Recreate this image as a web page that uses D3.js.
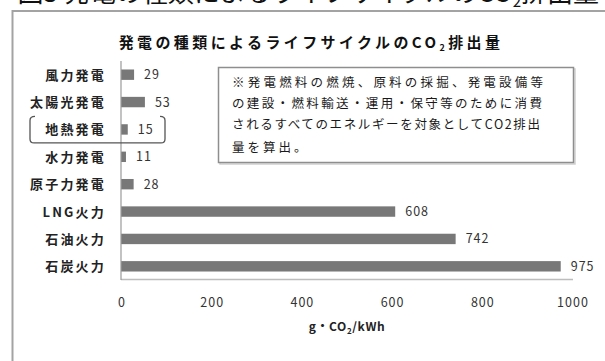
<!DOCTYPE html>
<html lang="ja">
<head>
<meta charset="utf-8">
<script src="https://cdn.jsdelivr.net/npm/d3@7/dist/d3.min.js"></script>
<style>
  html, body { margin: 0; padding: 0; background: #fff; }
  svg { display: block; }
  text { font-family: "Noto Sans CJK JP", "Noto Sans", sans-serif; }
</style>
</head>
<body>
<script>
// Life-cycle CO2 emissions by generation type (g-CO2/kWh)
const categories = ["風力発電", "太陽光発電", "地熱発電", "水力発電", "原子力発電", "LNG火力", "石油火力", "石炭火力"];
const values = [29, 53, 15, 11, 28, 608, 742, 975];
const tickValues = [0, 200, 400, 600, 800, 1000];
const tickLabels = ["0", "200", "400", "600", "800", "1000"];
const noteLines = [
  "※発電燃料の燃焼、原料の採掘、発電設備等",
  "の建設・燃料輸送・運用・保守等のために消費",
  "されるすべてのエネルギーを対象としてCO2排出",
  "量を算出。"
];
const highlighted = "地熱発電";

const W = 605, H = 361;
const svg = d3.select("body").append("svg").attr("width", W).attr("height", H);

// Figure caption above the chart frame (runs off the top of the page)
const cap = svg.append("text")
  .attr("x", 599).attr("y", 1.5)
  .attr("text-anchor", "end")
  .attr("font-size", 26).attr("fill", "#111");
cap.append("tspan").text("図3 発電の種類によるライフサイクルのCO");
cap.append("tspan").attr("font-size", 15).attr("dy", 5).text("2");
cap.append("tspan").attr("dy", -5).text("排出量");

// Chart frame
svg.append("rect")
  .attr("x", 12.5).attr("y", 11).attr("width", W + 20).attr("height", H + 20)
  .attr("fill", "#fff").attr("stroke", "#a3a3a3").attr("stroke-width", 2);

// Chart title
const title = svg.append("text")
  .attr("x", 311).attr("y", 48)
  .attr("text-anchor", "middle")
  .attr("font-size", 15).attr("font-weight", "bold")
  .attr("letter-spacing", 3.4).attr("fill", "#111");
title.append("tspan").text("発電の種類によるライフサイクルのCO");
title.append("tspan").attr("font-size", 9).attr("dy", 3).text("2");
title.append("tspan").attr("dy", -3).text("排出量");

// Scales
const x = d3.scaleLinear().domain([0, 1000]).range([121, 572]);
const y = d3.scaleBand().domain(categories).range([61, 280])
  .paddingInner(0.62).paddingOuter(0.31);

// Bottom axis baseline
svg.append("line")
  .attr("x1", x(0)).attr("x2", x(1000) + 1)
  .attr("y1", 279.5).attr("y2", 279.5)
  .attr("stroke", "#bdbdbd").attr("stroke-width", 1.6);

// Bars
svg.append("g").selectAll("rect")
  .data(values)
  .join("rect")
  .attr("x", x(0))
  .attr("y", (d, i) => y(categories[i]))
  .attr("width", d => x(d) - x(0))
  .attr("height", y.bandwidth())
  .attr("fill", "#787878");

// Vertical category axis line
svg.append("line")
  .attr("x1", 121).attr("x2", 121)
  .attr("y1", 61).attr("y2", 280)
  .attr("stroke", "#9a9a9a").attr("stroke-width", 1.2);

// Category labels
svg.append("g").selectAll("text")
  .data(categories)
  .join("text")
  .attr("x", 106)
  .attr("y", d => y(d) + y.bandwidth() / 2 + 5)
  .attr("text-anchor", "end")
  .attr("font-size", 13).attr("font-weight", "bold")
  .attr("letter-spacing", 2.2).attr("fill", "#222")
  .text(d => d);

// Value labels
svg.append("g").selectAll("text")
  .data(values)
  .join("text")
  .attr("x", d => x(d) + 10)
  .attr("y", (d, i) => y(categories[i]) + y.bandwidth() / 2 + 4.5)
  .attr("font-family", "'Liberation Sans', Arial, sans-serif")
  .attr("font-size", 12.5).attr("letter-spacing", 1)
  .attr("fill", "#333")
  .text(d => d);

// Value-axis tick labels
svg.append("g").selectAll("text")
  .data(tickValues)
  .join("text")
  .attr("x", d => x(d) + 1)
  .attr("y", 307)
  .attr("text-anchor", "middle")
  .attr("font-family", "'Liberation Sans', Arial, sans-serif")
  .attr("font-size", 12.5).attr("letter-spacing", 1)
  .attr("fill", "#333")
  .text((d, i) => tickLabels[i]);

// Value-axis title
const axisTitle = svg.append("text")
  .attr("x", 347).attr("y", 331)
  .attr("text-anchor", "middle")
  .attr("font-size", 12).attr("font-weight", "bold")
  .attr("letter-spacing", 0.6).attr("fill", "#222");
axisTitle.append("tspan").text("g・CO");
axisTitle.append("tspan").attr("font-size", 8).attr("dy", 3).text("2");
axisTitle.append("tspan").attr("dy", -3).text("/kWh");

// Bracket marking the highlighted category
const hy = y(highlighted) + y.bandwidth() / 2;
const bTop = hy - 13, bBot = hy + 13.5, lx = 30, rx = 165, r = 4;
svg.append("path")
  .attr("d", `M${lx + 5},${bTop} Q${lx},${bTop} ${lx},${bTop + r}
              L${lx},${bBot - r} Q${lx},${bBot} ${lx + r},${bBot}
              L${rx - r},${bBot} Q${rx},${bBot} ${rx},${bBot - r}
              L${rx},${bTop + r} Q${rx},${bTop} ${rx - 5},${bTop}`)
  .attr("fill", "none").attr("stroke", "#555").attr("stroke-width", 1.3);

// Note box
svg.append("rect")
  .attr("x", 220).attr("y", 69).attr("width", 355).attr("height", 95)
  .attr("fill", "none").attr("stroke", "#d0d0d0").attr("stroke-width", 1.5);
svg.append("rect")
  .attr("x", 218.5).attr("y", 67.5).attr("width", 355).attr("height", 95)
  .attr("fill", "#fff").attr("stroke", "#8e8e8e").attr("stroke-width", 1.5);

const noteY = [87, 108, 129, 152];
const noteLen = [311, 310, 308, null];
svg.append("g").selectAll("text")
  .data(noteLines)
  .join("text")
  .attr("x", 232)
  .attr("y", (d, i) => noteY[i])
  .attr("font-size", 12.5)
  .attr("fill", "#1a1a1a")
  .each(function (d, i) {
    const t = d3.select(this);
    if (noteLen[i]) t.attr("textLength", noteLen[i]).attr("lengthAdjust", "spacing");
    else t.attr("letter-spacing", 3);
  })
  .text(d => d);
</script>
</body>
</html>
